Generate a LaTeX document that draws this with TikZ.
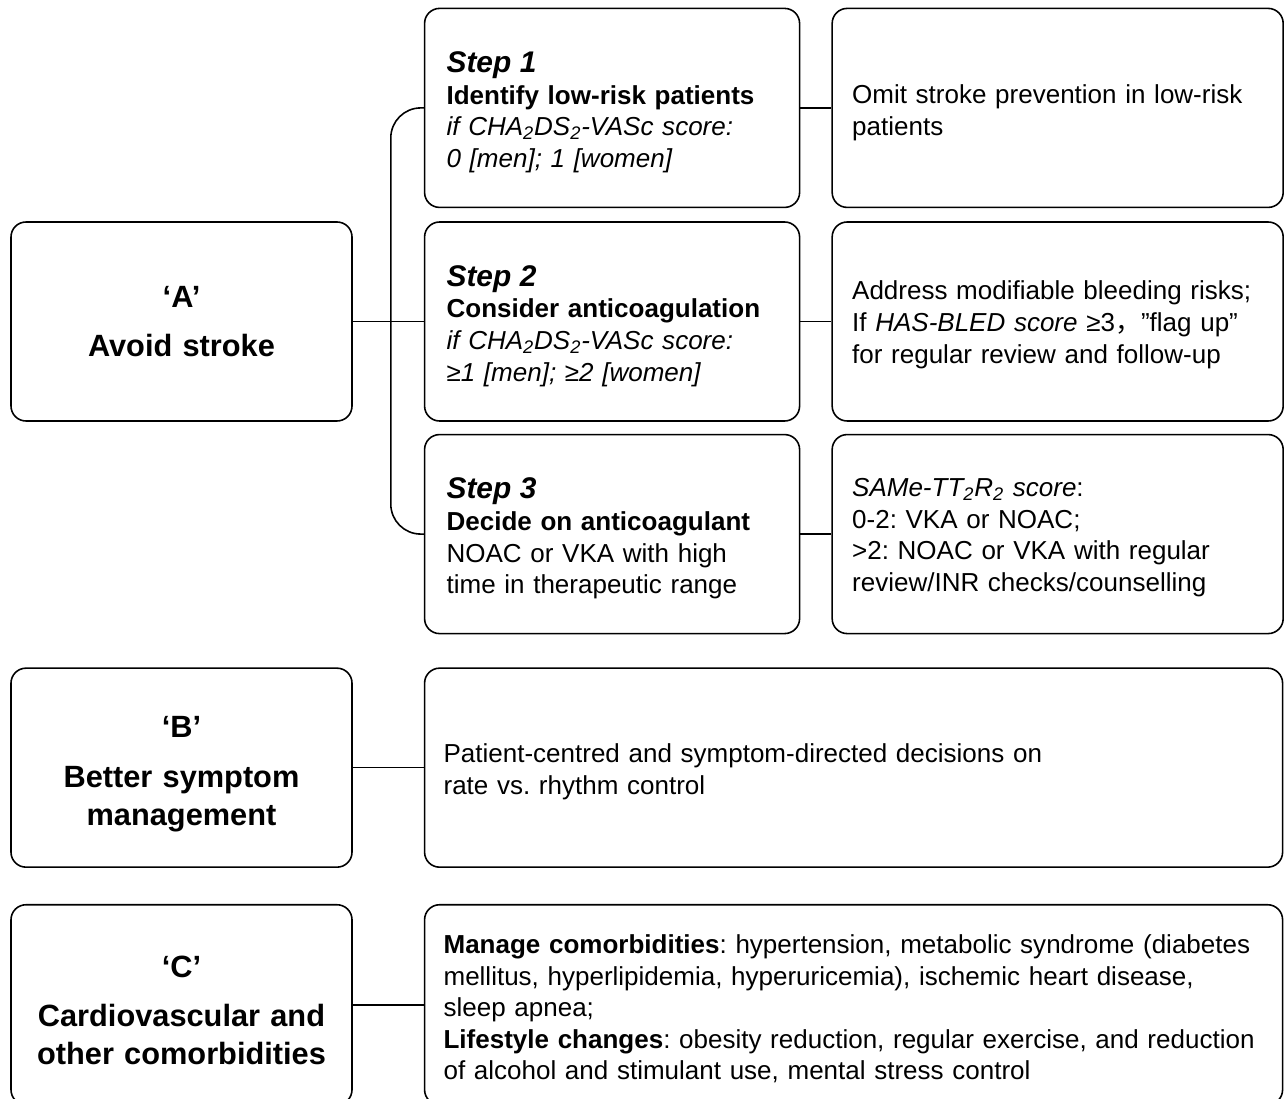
\documentclass[tikz,border=0pt]{standalone}
\usepackage{fontspec}
\setmainfont{Liberation Sans}
\newfontfamily\cjkfont{Noto Sans CJK SC}
\usepackage{tikz}
\usetikzlibrary{positioning}
\frenchspacing
\newcommand{\chadsvasc}{CHA\textsubscript{2}DS\textsubscript{2}-VASc}
\newcommand{\stephead}[1]{{\fontsize{17}{18}\selectfont\bfseries\itshape #1}}
\newcommand{\topstrut}[1]{\rule{0pt}{#1}}

\begin{document}
\begin{tikzpicture}[
  node distance=2.6mm and 6.2mm,
  base/.style={draw, rounded corners=3mm, line width=0.9pt, minimum height=39.8mm},
  letterbox/.style={base, font=\fontsize{17.5}{21.5}\selectfont\bfseries, align=center,
                    text width=63mm, inner xsep=2.6mm},
  stepbox/.style={base, font=\fontsize{14.8}{18}\selectfont, align=left,
                  text width=66.2mm, inner xsep=4.4mm,
                  execute at begin node={\topstrut{17pt}}},
  notebox/.style={base, font=\fontsize{14.8}{18}\selectfont, align=left,
                  text width=82.2mm, inner xsep=4mm},
  widebox/.style={base, font=\fontsize{14.8}{18}\selectfont, align=left,
                  text width=164mm, inner xsep=3.8mm,
                  execute at begin node={\topstrut{15.5pt}}},
  link/.style={line width=0.9pt}]
\useasboundingbox (0,0) rectangle (25.7,-21.98);
\clip (0,0) rectangle (25.7,-21.98);
\node[letterbox] (A) at (3.63,-6.43) {‘A’\\[6.8pt] Avoid stroke};
\node[stepbox, right=14.2mm of A] (S2) {\stephead{Step 2}\\
  \textbf{Consider anticoagulation}\\
  \textit{if \chadsvasc{} score:}\\
  \textit{≥1 [men]; ≥2 [women]}};
\node[stepbox, above=of S2] (S1) {\stephead{Step 1}\\
  \textbf{Identify low-risk patients}\\
  \textit{if \chadsvasc{} score:}\\
  \textit{0 [men]; 1 [women]}};
\node[stepbox, below=2.4mm of S2] (S3) {\stephead{Step 3}\\
  \textbf{Decide on anticoagulant}\\
  NOAC or VKA with high\\
  time in therapeutic range};
\node[notebox, right=of S1] (R1) {\topstrut{16pt}Omit stroke prevention in low-risk\\ patients};
\node[notebox, right=of S2] (R2) {\topstrut{14.5pt}Address modifiable bleeding risks;\\
  If \textit{HAS-BLED score} ≥3{\cjkfont ，}”flag up”\\
  for regular review and follow-up};
\node[notebox, right=of S3] (R3) {\topstrut{14.5pt}\textit{SAMe-TT\textsubscript{2}R\textsubscript{2} score}:\\
  0-2: VKA or NOAC;\\
  >2: NOAC or VKA with regular\\
  review/INR checks/counselling};
\coordinate (bTop) at (S3.south -| A);
\node[letterbox, below=6.6mm of bTop] (B) {\topstrut{19.6pt}‘B’\\[6.8pt] Better symptom\\ management};
\node[widebox, right=14.2mm of B] (BR) {Patient-centred and symptom-directed decisions on\\
  rate vs. rhythm control};
\node[letterbox, below=7.2mm of B, minimum height=40mm] (C) {\topstrut{18.5pt}‘C’\\[6.8pt] Cardiovascular and\\ other comorbidities};
\node[widebox, right=14.2mm of C, minimum height=40mm] (CR) {\textbf{Manage comorbidities}: hypertension, metabolic syndrome (diabetes\\
  mellitus, hyperlipidemia, hyperuricemia), ischemic heart disease,\\
  sleep apnea;\\
  \textbf{Lifestyle changes}: obesity reduction, regular exercise, and reduction\\
  of alcohol and stimulant use, mental stress control};
\coordinate (brk) at ([xshift=-6.6mm]S2.west);
\draw[link] (A) -- (S2);
\draw[link, rounded corners=6mm] (S1.west) -| (brk) |- (S3.west);
\draw[link] (S1) -- (R1);
\draw[link] (S2) -- (R2);
\draw[link] (S3) -- (R3);
\draw[link] (B) -- (BR);
\draw[link] (C) -- (CR);
\end{tikzpicture}
\end{document}
